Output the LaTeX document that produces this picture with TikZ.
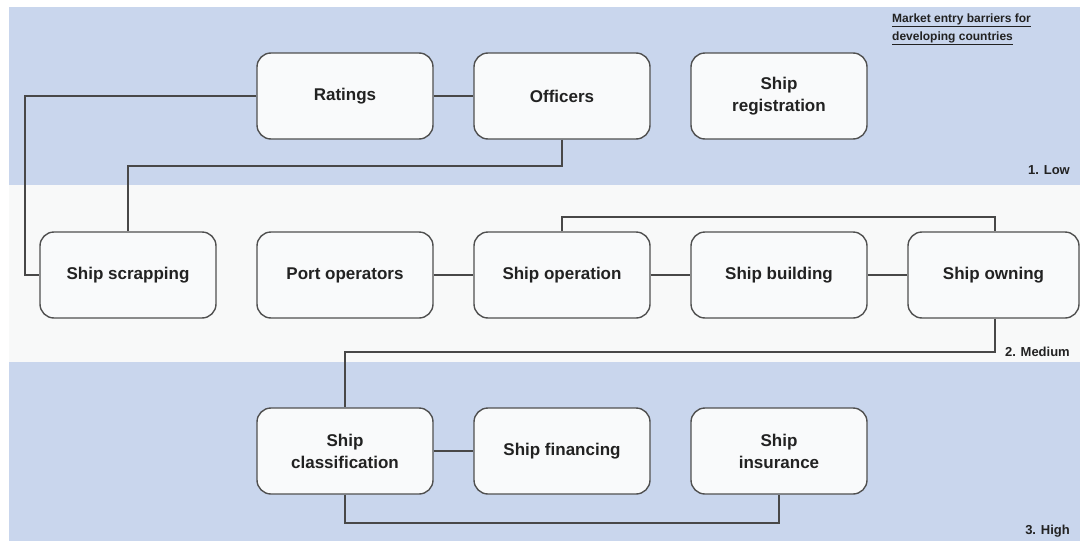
\documentclass[tikz,border=0pt]{standalone}
\usepackage{fontspec}
\setmainfont{Liberation Sans}
\definecolor{bandblue}{RGB}{201,214,237}
\definecolor{bandwhite}{RGB}{248,249,249}
\definecolor{boxfill}{RGB}{249,250,251}
\definecolor{edge}{RGB}{80,80,80}
\definecolor{txt}{RGB}{34,34,34}
\begin{document}
\begin{tikzpicture}[x=1pt,y=-1pt,
  box/.style={draw=edge, line width=1.4pt, fill=boxfill, rounded corners=14pt,
    minimum width=176pt, minimum height=86pt, align=center, text=txt,
    font=\fontsize{17}{22}\selectfont\bfseries, inner sep=2pt},
  link/.style={draw=edge!90!black, line width=1.5pt},
  lvl/.style={font=\fontsize{13}{15}\selectfont\bfseries, text=txt, anchor=east, inner sep=0pt}]
\useasboundingbox (0,0) rectangle (1080,541);
\fill[white] (0,0) rectangle (1080,541);
\fill[bandblue] (9,7) rectangle (1080,185);
\fill[bandwhite] (9,185) rectangle (1080,362);
\fill[bandblue] (9,362) rectangle (1080,541);

% nodes
\node[box] (rat) at (345,96) {Ratings};
\node[box] (off) at (562,96) {Officers};
\node[box] (reg) at (779,96) {Ship\\registration};
\node[box] (scr) at (128,275) {Ship scrapping};
\node[box] (port) at (345,275) {Port operators};
\node[box] (op) at (562,275) {Ship operation};
\node[box] (bld) at (779,275) {Ship building};
\node[box, minimum width=171pt] (own) at (993.5,275) {Ship owning};
\node[box] (cls) at (345,451) {Ship\\classification};
\node[box] (fin) at (562,451) {Ship financing};
\node[box] (ins) at (779,451) {Ship\\insurance};

% connectors
\coordinate (c1) at (25,96);
\coordinate (c2) at (562,166);
\coordinate (c3) at (562,217);
\coordinate (c4) at (995,217);
\coordinate (c5) at (995,352);
\coordinate (c6) at (345,523);
\draw[link] (rat.west) -- (c1) |- (scr.west);
\draw[link] (rat.east) -- (off.west);
\draw[link] (off.south) -- (c2) -| (scr.north);
\draw[link] (port.east) -- (op.west);
\draw[link] (op.east) -- (bld.west);
\draw[link] (bld.east) -- (own.west);
\draw[link] (op.north) -- (c3) -- (c4) -- (c4 |- own.north);
\draw[link] (c5 |- own.south) -- (c5) -| (cls.north);
\draw[link] (cls.east) -- (fin.west);
\draw[link] (cls.south) -- (c6) -| (ins.south);

% labels
\node[anchor=west, inner sep=0pt, text=txt, font=\fontsize{12}{14}\selectfont\bfseries] (t1) at (892,20) {\underline{Market entry barriers for}};
\node[anchor=west, inner sep=0pt, text=txt, font=\fontsize{12}{14}\selectfont\bfseries] (t2) at (892,38) {\underline{developing countries}};
\node[lvl] (l1) at (1070,170) {1. Low};
\node[lvl] (l2) at (1070,352) {2. Medium};
\node[lvl] (l3) at (1070,531) {3. High};
\end{tikzpicture}
\end{document}
